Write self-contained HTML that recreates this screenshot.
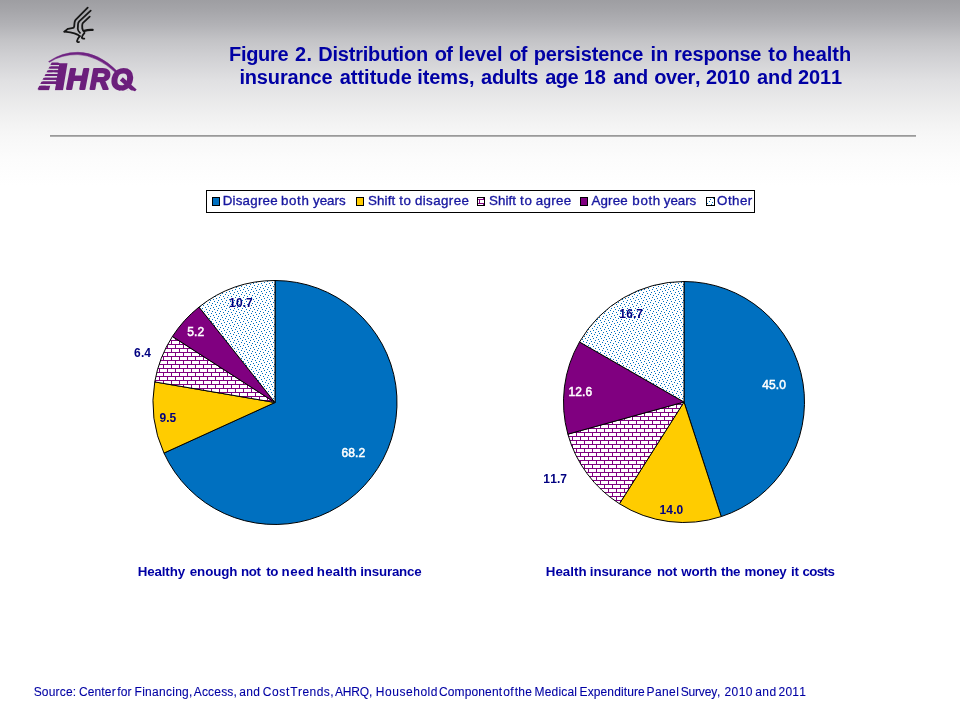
<!DOCTYPE html>
<html lang="en"><head><meta charset="utf-8"><title>Figure 2. Distribution of level of persistence in response to health insurance attitude items</title>
<style>
html,body{margin:0;padding:0;}
body{width:960px;height:720px;overflow:hidden;background:#fff;font-family:"Liberation Sans",Arial,sans-serif;position:relative;}
#bg{position:absolute;left:0;top:0;width:960px;height:720px;background:linear-gradient(to bottom,#9e9ea2 0px,#a5a5a9 10px,#b2b2b6 25px,#c3c3c6 40px,#cfcfd2 55px,#e0e0e2 80px,#efefef 113px,#f7f7f7 135px,#fcfcfc 160px,#ffffff 186px);}
#rule{position:absolute;left:50px;top:135px;width:866px;height:2px;background:linear-gradient(to bottom,#9a9a9a 0,#9a9a9a 1px,#b0b0b0 1px,#b0b0b0 2px);}
svg{position:absolute;left:0;top:0;}
svg text{font-family:"Liberation Sans",Arial,sans-serif;font-kerning:none;white-space:pre;}
.ti{font-size:20px;font-weight:bold;}
.cp{font-size:13.33px;font-weight:bold;}
.sr{font-size:12px;font-weight:normal;stroke:#0000a4;stroke-width:0.1px;}
.lg{font-size:13.33px;font-weight:normal;stroke:#1818a0;stroke-width:0.35px;}
.dl{font-size:12px;font-weight:bold;}
.dw{font-size:12px;font-weight:normal;fill:#fff;stroke:#fff;stroke-width:0.5px;}
.sl path{stroke:#000;stroke-width:1;stroke-linejoin:round;}
</style></head>
<body>
<div id="bg"></div>
<div id="rule"></div>
<svg width="960" height="720" viewBox="0 0 960 720">
<defs><pattern id="brick1" x="0" y="0" width="8" height="8" patternUnits="userSpaceOnUse"><rect width="8" height="8" fill="#fff"/><path d="M0 0h8v1h-8zM0 4h8v1h-8zM7 1h1v3h-1zM3 5h1v3h-1z" fill="#800080"/></pattern><pattern id="dots1" x="0" y="0" width="8" height="8" patternUnits="userSpaceOnUse"><rect width="8" height="8" fill="#fff"/><path d="M7 0h1v1h-1zM3 1h1v1h-1zM0 2h1v1h-1zM5 3h1v1h-1zM2 4h1v1h-1zM6 5h1v1h-1zM1 6h1v1h-1zM4 7h1v1h-1z" fill="#0070C0"/></pattern><pattern id="brick2" x="1" y="0" width="8" height="8" patternUnits="userSpaceOnUse"><rect width="8" height="8" fill="#fff"/><path d="M0 0h8v1h-8zM0 4h8v1h-8zM7 1h1v3h-1zM3 5h1v3h-1z" fill="#800080"/></pattern><pattern id="dots2" x="1" y="0" width="8" height="8" patternUnits="userSpaceOnUse"><rect width="8" height="8" fill="#fff"/><path d="M7 0h1v1h-1zM3 1h1v1h-1zM0 2h1v1h-1zM5 3h1v1h-1zM2 4h1v1h-1zM6 5h1v1h-1zM1 6h1v1h-1zM4 7h1v1h-1z" fill="#0070C0"/></pattern><pattern id="brick3" x="4" y="3" width="8" height="8" patternUnits="userSpaceOnUse"><rect width="8" height="8" fill="#fff"/><path d="M0 0h8v1h-8zM0 4h8v1h-8zM7 1h1v3h-1zM3 5h1v3h-1z" fill="#800080"/></pattern><pattern id="dots3" x="4" y="3" width="8" height="8" patternUnits="userSpaceOnUse"><rect width="8" height="8" fill="#fff"/><path d="M7 0h1v1h-1zM3 1h1v1h-1zM0 2h1v1h-1zM5 3h1v1h-1zM2 4h1v1h-1zM6 5h1v1h-1zM1 6h1v1h-1zM4 7h1v1h-1z" fill="#0070C0"/></pattern></defs>
<g id="logo">
<g fill="none" stroke="#161616" stroke-width="1.8" stroke-linecap="round" stroke-linejoin="round">
<path d="M87.7 7.7L75.6 19.8Q74.6 21 74.5 23L74.2 26.6Q74 28 72 28.2L68 28.8L64.4 31.6"/>
<path d="M90.7 10.7L79.2 21.3Q78 22.6 78 24.5L77.8 29Q78 31 80 32.8"/>
<path d="M89.7 16.7L83 22.8Q82.2 23.8 82.2 25.5L82.3 28.5Q82.6 30.3 84.3 31.7"/>
<path d="M64.4 31.6L70.3 32.3Q75 33.3 77.5 34.6L79.8 36.2"/>
<path d="M84.3 30.8Q88 29.6 92.6 29.9" stroke-width="2.3"/>
<path d="M79.8 36.2Q77.2 39 77 41.2Q77.5 42.5 79 42"/>
<path d="M84.5 32.8Q82 35.5 81.8 37.8Q82.6 39 84.3 38.6"/>
</g>
<defs>
<mask id="stripes" maskUnits="userSpaceOnUse" x="30" y="40" width="120" height="60"><rect x="30" y="40" width="120" height="60" fill="#fff"/><path d="M34 65h25v1.6h-25zM34 68.6h24.4v1.6h-24.4zM34 72.3h23.8v1.7h-23.8zM34 76h23.2v1.7h-23.2zM34 79.8h22.4v1.8h-22.4zM34 84h21.6v1.7h-21.6z" fill="#000"/></mask>
<clipPath id="lc"><path d="M30 45H150V92.3H137L133 90.4H30Z"/></clipPath>
</defs>
<path d="M48.6 61.6Q62 52.2 78 52.3Q99 52.6 117.5 71.5L115.5 72.5Q97 55.4 78 54.6Q62 54.2 49.4 62.2Z" fill="#6f2382" stroke="#6f2382" stroke-width="0.5"/>
<g clip-path="url(#lc)" fill="#6c1f7c" stroke="#6c1f7c" stroke-linejoin="round">
<g mask="url(#stripes)">
<path d="M52.6 63.3H60L56.2 84.6H50.5L49 90.2H38.1Z" stroke="none"/>
<path d="M59.4 63.3H67.5L63 90.2H54.9Z" stroke="none"/>
</g>
<text x="39" y="89.3" stroke-width="2" style="font-family:'Liberation Sans',sans-serif;font-weight:bold;font-style:italic;font-size:36px;font-kerning:none"><tspan mask="url(#stripes)" style="stroke-width:1.2px">A</tspan><tspan x="66.4" style="font-size:28.8px" textLength="21.3" lengthAdjust="spacingAndGlyphs">H</tspan><tspan x="89.9" style="font-size:28.8px" textLength="19.7" lengthAdjust="spacingAndGlyphs">R</tspan><tspan x="111.1" style="font-size:28.8px" textLength="21.7" lengthAdjust="spacingAndGlyphs">Q</tspan></text>
<path d="M121.3 78.8L135.2 91.2" fill="none" stroke-width="4.4"/>
</g>
</g>
<g id="title">
<text class="ti" y="60.6" fill="#0000a4" transform="translate(0 60.6) scale(1 1.035) translate(0 -60.6)"><tspan x="228.96" letter-spacing="-0.28">Figure</tspan> <tspan x="295.13" letter-spacing="0.33">2.</tspan> <tspan x="318.16" letter-spacing="-0.19">Distribution</tspan> <tspan x="434.68" letter-spacing="-0.67">of</tspan> <tspan x="458.60" letter-spacing="-0.12">level</tspan> <tspan x="509.22" letter-spacing="-0.63">of</tspan> <tspan x="533.68" letter-spacing="-0.14">persistence</tspan> <tspan x="650.60" letter-spacing="-0.14">in</tspan> <tspan x="673.98" letter-spacing="-0.20">response</tspan> <tspan x="768.16" letter-spacing="0.33">to</tspan> <tspan x="792.40" letter-spacing="-0.01">health</tspan></text>
<text class="ti" y="84.4" fill="#0000a4" transform="translate(0 84.4) scale(1 1.035) translate(0 -84.4)"><tspan x="239.40" letter-spacing="-0.15">insurance</tspan> <tspan x="339.71" letter-spacing="-0.01">attitude</tspan> <tspan x="417.30" letter-spacing="-0.09">items,</tspan> <tspan x="481.11" letter-spacing="-0.34">adults</tspan> <tspan x="545.21" letter-spacing="-0.50">age</tspan> <tspan x="583.82" letter-spacing="-0.15">18</tspan> <tspan x="613.21" letter-spacing="-0.23">and</tspan> <tspan x="654.22" letter-spacing="-0.37">over,</tspan> <tspan x="706.01" letter-spacing="-0.16">2010</tspan> <tspan x="756.91" letter-spacing="0.07">and</tspan> <tspan x="798.01" letter-spacing="-0.15">2011</tspan></text>
</g>
<rect x="206.5" y="190.5" width="548" height="22" fill="#fff" stroke="#000" stroke-width="1"/>
<rect x="212.5" y="197.5" width="7" height="8" fill="#0070C0" stroke="#000" stroke-width="1"/>
<text class="lg" y="205.4" fill="#1818a0"><tspan x="222.71" letter-spacing="0.22">Disagree</tspan> <tspan x="281.03" letter-spacing="0.64">both</tspan> <tspan x="312.97" letter-spacing="0.00">years</tspan></text>
<rect x="356.5" y="197.5" width="7" height="8" fill="#FFCC00" stroke="#000" stroke-width="1"/>
<text class="lg" y="205.4" fill="#1818a0"><tspan x="368.09" letter-spacing="0.11">Shift</tspan> <tspan x="399.30" letter-spacing="0.54">to</tspan> <tspan x="414.94" letter-spacing="0.40">disagree</tspan></text>
<rect x="477.5" y="197.5" width="7" height="8" fill="url(#brick3)" stroke="#000" stroke-width="1"/>
<text class="lg" y="205.4" fill="#1818a0"><tspan x="489.09" letter-spacing="0.06">Shift</tspan> <tspan x="520.10" letter-spacing="0.64">to</tspan> <tspan x="535.83" letter-spacing="0.32">agree</tspan></text>
<rect x="580.5" y="197.5" width="7" height="8" fill="#800080" stroke="#000" stroke-width="1"/>
<text class="lg" y="205.4" fill="#1818a0"><tspan x="591.47" letter-spacing="0.14">Agree</tspan> <tspan x="632.33" letter-spacing="0.64">both</tspan> <tspan x="663.77" letter-spacing="-0.02">years</tspan></text>
<rect x="706.5" y="197.5" width="8" height="8" fill="url(#dots3)" stroke="#000" stroke-width="1"/>
<text class="lg" y="205.4" fill="#1818a0"><tspan x="717.07" letter-spacing="0.45">Other</tspan></text>

<g class="sl">
<path d="M275.00 402.50L275.00 280.50A122 122 0 1 1 163.97 453.05Z" fill="#0070C0"/>
<path d="M275.00 402.50L163.97 453.05A122 122 0 0 1 154.75 381.90Z" fill="#FFCC00"/>
<path d="M275.00 402.50L154.75 381.90A122 122 0 0 1 172.40 336.48Z" fill="url(#brick1)"/>
<path d="M275.00 402.50L172.40 336.48A122 122 0 0 1 199.02 307.05Z" fill="#800080"/>
<path d="M275.00 402.50L199.02 307.05A122 122 0 0 1 275.00 280.50Z" fill="url(#dots1)"/>
<path d="M684.00 402.00L684.00 281.50A120.5 120.5 0 0 1 721.24 516.60Z" fill="#0070C0"/>
<path d="M684.00 402.00L721.24 516.60A120.5 120.5 0 0 1 619.43 503.74Z" fill="#FFCC00"/>
<path d="M684.00 402.00L619.43 503.74A120.5 120.5 0 0 1 567.87 434.16Z" fill="url(#brick2)"/>
<path d="M684.00 402.00L567.87 434.16A120.5 120.5 0 0 1 579.52 341.97Z" fill="#800080"/>
<path d="M684.00 402.00L579.52 341.97A120.5 120.5 0 0 1 684.00 281.50Z" fill="url(#dots2)"/>
</g>
<text class="dw" x="341.47" y="457" letter-spacing="0.150">68.2</text>
<text class="dl" x="159.39" y="422" letter-spacing="0.100" fill="#000080">9.5</text>
<text class="dl" x="134.12" y="357" letter-spacing="0.100" fill="#000080">6.4</text>
<text class="dw" x="187.20" y="336" letter-spacing="0.150">5.2</text>
<text class="dl" x="229.12" y="306.75" letter-spacing="0.100" fill="#000080">10.7</text>
<text class="dw" x="762.19" y="389" letter-spacing="0.150">45.0</text>
<text class="dl" x="659.59" y="514" letter-spacing="0.100" fill="#000080">14.0</text>
<text class="dl" x="543.37" y="483" letter-spacing="0.100" fill="#000080">11.7</text>
<text class="dw" x="568.47" y="396" letter-spacing="0.150">12.6</text>
<text class="dl" x="619.37" y="317.75" letter-spacing="0.100" fill="#000080">16.7</text>
<text class="cp" y="575.8" fill="#0000a4"><tspan x="137.81" letter-spacing="-0.15">Healthy</tspan> <tspan x="189.78" letter-spacing="-0.08">enough</tspan> <tspan x="241.12" letter-spacing="-0.44">not</tspan> <tspan x="266.14" letter-spacing="-0.20">to</tspan> <tspan x="281.62" letter-spacing="0.38">need</tspan> <tspan x="316.87" letter-spacing="0.18">health</tspan> <tspan x="360.27" letter-spacing="-0.19">insurance</tspan></text>
<text class="cp" y="575.8" fill="#0000a4"><tspan x="545.81" letter-spacing="0.02">Health</tspan> <tspan x="589.87" letter-spacing="-0.15">insurance</tspan> <tspan x="656.92" letter-spacing="-0.24">not</tspan> <tspan x="681.24" letter-spacing="-0.12">worth</tspan> <tspan x="721.04" letter-spacing="-0.29">the</tspan> <tspan x="744.62" letter-spacing="-0.20">money</tspan> <tspan x="791.07" letter-spacing="-0.35">it</tspan> <tspan x="802.60" letter-spacing="-0.65">costs</tspan></text>
<text class="sr" y="695.8" fill="#0000a4"><tspan x="33.66" letter-spacing="0.18">Source:</tspan> <tspan x="78.89" letter-spacing="0.16">Center</tspan> <tspan x="117.33" letter-spacing="0.03">for</tspan> <tspan x="134.52" letter-spacing="0.28">Financing,</tspan> <tspan x="193.68" letter-spacing="0.20">Access,</tspan> <tspan x="239.19" letter-spacing="0.38">and</tspan> <tspan x="262.69" letter-spacing="0.64">Cost</tspan> <tspan x="290.23" letter-spacing="0.44">Trends,</tspan> <tspan x="334.98" letter-spacing="-0.15">AHRQ,</tspan> <tspan x="375.72" letter-spacing="0.55">Household</tspan> <tspan x="438.89" letter-spacing="0.14">Component</tspan> <tspan x="503.20" letter-spacing="0.48">of</tspan> <tspan x="514.82" letter-spacing="0.17">the</tspan> <tspan x="534.52" letter-spacing="0.19">Medical</tspan> <tspan x="579.52" letter-spacing="0.12">Expenditure</tspan> <tspan x="646.52" letter-spacing="0.40">Panel</tspan> <tspan x="680.76" letter-spacing="-0.19">Survey,</tspan> <tspan x="724.40" letter-spacing="0.46">2010</tspan> <tspan x="755.29" letter-spacing="0.38">and</tspan> <tspan x="778.60" letter-spacing="0.19">2011</tspan></text>
</svg>
</body></html>
